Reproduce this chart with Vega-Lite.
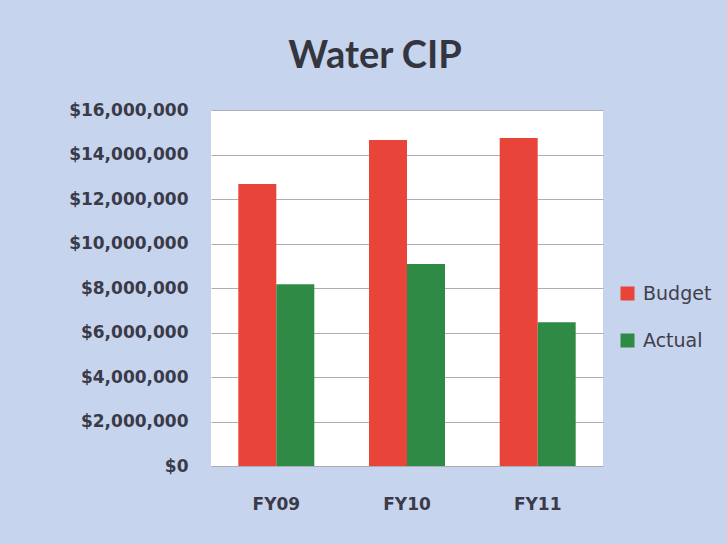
{
  "$schema": "https://vega.github.io/schema/vega-lite/v6.json",
  "width": 392,
  "height": 356,
  "autosize": "none",
  "padding": {"left": 211, "top": 110, "right": 124, "bottom": 78},
  "background": "#c6d4ee",
  "title": {
    "text": "Water CIP",
    "anchor": "middle",
    "dx": -32,
    "offset": 25,
    "font": "Lato",
    "fontSize": 38,
    "fontWeight": "bold",
    "color": "#35353f"
  },
  "data": {
    "values": [
      {"year": "FY09", "series": "Budget", "amount": 12670000},
      {"year": "FY09", "series": "Actual", "amount": 8170000},
      {"year": "FY10", "series": "Budget", "amount": 14650000},
      {"year": "FY10", "series": "Actual", "amount": 9080000},
      {"year": "FY11", "series": "Budget", "amount": 14740000},
      {"year": "FY11", "series": "Actual", "amount": 6460000}
    ]
  },
  "mark": {"type": "bar"},
  "encoding": {
    "x": {
      "field": "year",
      "type": "nominal",
      "scale": {"paddingInner": 0.4185, "paddingOuter": 0.209},
      "axis": {
        "title": null,
        "labelAngle": 0,
        "ticks": false,
        "domain": false,
        "labelPadding": 30,
        "labelFont": "DejaVu Sans",
        "labelFontSize": 17,
        "labelFontWeight": "bold",
        "labelColor": "#3a3a48"
      }
    },
    "xOffset": {"field": "series", "type": "nominal", "sort": ["Budget", "Actual"], "scale": {"paddingInner": 0, "paddingOuter": 0}},
    "y": {
      "field": "amount",
      "type": "quantitative",
      "scale": {"domain": [0, 16000000]},
      "axis": {
        "title": null,
        "values": [0, 2000000, 4000000, 6000000, 8000000, 10000000, 12000000, 14000000, 16000000],
        "format": "$,.0f",
        "ticks": false,
        "domain": false,
        "labelPadding": 23,
        "labelFont": "DejaVu Sans",
        "labelFontSize": 17,
        "labelFontWeight": "bold",
        "labelColor": "#3a3a48",
        "gridColor": "#adadb5",
        "gridWidth": 1
      }
    },
    "color": {
      "field": "series",
      "type": "nominal",
      "scale": {"domain": ["Budget", "Actual"], "range": ["#e9443a", "#2f8a46"]},
      "legend": {
        "title": null,
        "orient": "none",
        "legendX": 407,
        "legendY": 174,
        "symbolType": "square",
        "symbolSize": 196,
        "symbolStrokeWidth": 0,
        "labelFont": "DejaVu Sans",
        "labelFontSize": 19,
        "labelColor": "#40404c",
        "labelOffset": 6,
        "rowPadding": 27
      }
    }
  },
  "config": {
    "view": {"fill": "white", "stroke": null}
  }
}
